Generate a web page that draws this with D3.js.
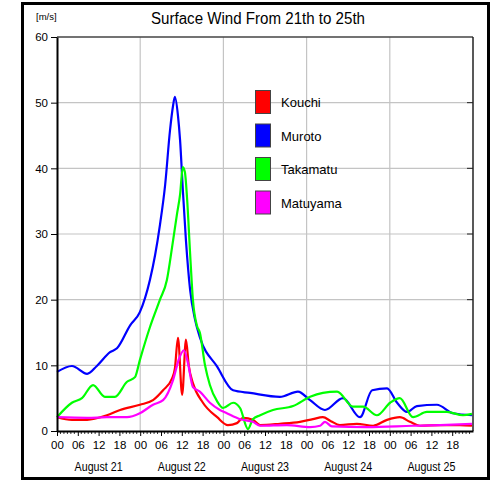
<!DOCTYPE html>
<html><head><meta charset="utf-8">
<script src="https://cdn.jsdelivr.net/npm/d3@7"></script>
<style>
body{margin:0;background:#fff;}
text{font-family:"Liberation Sans",Arial,sans-serif;}
</style></head>
<body><svg id="c" width="495" height="480"></svg>
<script>
// Data: hours since Aug 21 00:00, wind speed m/s
const seriesNames = ["Kouchi","Muroto","Takamatu","Matuyama"];
const seriesColors = ["#ff0000","#0000ff","#00ff00","#ff00ff"];
const kouchi = [[0,2.1],[4.3,1.7],[8.7,1.7],[14.4,2.4],[18.2,3.2],[23.9,4],[27.7,4.7],[30.6,6.2],[33.2,8],[34.0,9.5],[34.9,14.2],[36.1,5.5],[37.2,13.9],[38.0,10],[39.2,7.3],[42.1,4.3],[46.2,2.1],[49.3,0.9],[51.9,1.2],[53.7,2],[56.5,1.7],[58.6,0.9],[64.3,1.1],[70.1,1.4],[73.8,1.8],[76.7,2.1],[79,1.5],[81.6,0.9],[86.5,1.1],[91.2,0.8],[95.2,1.7],[98.9,2.1],[101.8,1.4],[104.7,0.8],[110.5,0.9],[116.2,0.9],[119.7,0.8]];
const muroto = [[0,9],[4.3,9.9],[8.7,8.7],[11.5,9.9],[15.3,12],[17.3,12.6],[21.1,16.1],[23.9,18.1],[26.8,23],[28.3,26.8],[29.7,31.4],[31.2,37.5],[32.6,45.8],[33.5,49.6],[34.0,50.9],[34.9,48],[35.5,44.3],[36.3,36.7],[37.2,29],[38.4,21.5],[39.8,17],[41.2,14.3],[46.2,9.8],[50.8,6.2],[55.7,5.8],[64.3,5.2],[69.5,6],[73,4.7],[77.3,3.2],[82.5,5],[87.4,2.1],[90.9,6.2],[95.2,6.5],[98.1,4.3],[101,2.9],[103.8,3.8],[109.6,4],[114.2,2.7],[119.7,2.4]];
const takamatu = [[0,2.1],[4.3,4.3],[7.2,5],[10.4,7],[13.8,5.2],[16.7,5.2],[20.2,7.5],[22.5,8.2],[23.9,10.8],[26.8,15.8],[29.7,20],[31.7,23],[33.2,28],[34.6,33],[35.5,36],[36.3,40.2],[36.9,39.4],[37.5,35.6],[38.4,27],[39.2,20],[40.4,16],[41.2,15],[42.7,10],[44.1,7],[46.2,4.5],[47.9,3.5],[50.8,4.3],[52.8,3.5],[55.1,0.3],[56.5,1.8],[58.6,2.4],[62.3,3.2],[68.1,3.8],[73,5.2],[76.7,5.8],[80.8,6],[85.4,3.7],[88.3,3.7],[92.3,2.4],[96.1,4.3],[98.9,5],[102.7,2.1],[106.7,2.9],[112.5,2.9],[117.1,2.4],[119.7,2.6]];
const matuyama = [[0,2.1],[8.7,2],[14.4,2.1],[20.2,2.1],[23.9,2.7],[27.7,4],[30.6,4.7],[33.5,7.8],[35.2,11],[36.6,12.3],[37.8,10.3],[39.2,6.7],[41.2,6],[44.1,4.3],[47,3.2],[49,2.7],[52.8,1.8],[56.5,1.4],[58.6,0.8],[66.3,0.9],[73,0.6],[75.9,0.8],[77.3,1.4],[79.3,0.7],[89.4,0.6],[102.7,0.8],[110.5,0.9],[119.7,1.1]];
const seriesData = [kouchi, muroto, takamatu, matuyama];
const yTicks = [0,10,20,30,40,50,60];
const hourLabels = ["00","06","12","18"];
const dayLabels = ["August 21","August 22","August 23","August 24","August 25"];
const titleText = "Surface Wind From 21th to 25th";
const unitText = "[m/s]";

const svg = d3.select("#c");
const L=57, R=473, T=37, B=431;
const x = d3.scaleLinear().domain([0,120]).range([L,R]);
const y = d3.scaleLinear().domain([0,60]).range([B,T]);

// outer frame
svg.append("rect").attr("x",22.5).attr("y",3.5).attr("width",466).attr("height",475)
  .attr("fill","none").attr("stroke","#000").attr("stroke-width",3);

// grid
svg.append("g").selectAll("line").data(yTicks.slice(1,-1)).join("line")
  .attr("x1",L).attr("x2",R).attr("y1",d=>y(d)).attr("y2",d=>y(d))
  .attr("stroke","#c4c4c4").attr("stroke-width",1.2);
svg.append("g").selectAll("line").data([24,48,72,96]).join("line")
  .attr("y1",T).attr("y2",B).attr("x1",d=>x(d)).attr("x2",d=>x(d))
  .attr("stroke","#c4c4c4").attr("stroke-width",1.2);

// lines
const line = d3.line().x(d=>x(d[0])).y(d=>y(d[1])).curve(d3.curveMonotoneX);
seriesData.forEach((s,i)=>{
  svg.append("path").datum(s).attr("d",line).attr("fill","none")
    .attr("stroke",seriesColors[i]).attr("stroke-width",2.2).attr("stroke-linejoin","round");
});

// plot frame
svg.append("line").attr("x1",L).attr("x2",R).attr("y1",T).attr("y2",T).attr("stroke","#444").attr("stroke-width",1.5);
svg.append("line").attr("x1",R).attr("x2",R).attr("y1",T).attr("y2",B).attr("stroke","#222").attr("stroke-width",1.5);

// y axis
const yAxis = svg.append("g").attr("transform",`translate(${L},0)`)
  .call(d3.axisLeft(y).tickValues(yTicks).tickSize(6).tickSizeOuter(0).tickPadding(3));
yAxis.select(".domain").attr("stroke","#000").attr("stroke-width",2);
yAxis.selectAll(".tick line").attr("stroke","#000");
yAxis.selectAll("text").attr("font-size",11.5).attr("fill","#000");
// right ticks
svg.append("g").selectAll("line").data(yTicks.slice(1,-1)).join("line")
  .attr("x1",R-6).attr("x2",R).attr("y1",d=>y(d)).attr("y2",d=>y(d)).attr("stroke","#222");

// x axis
const minorH = d3.range(0,121,1);
svg.append("g").selectAll("line").data(minorH.filter(h=>h%6!==0)).join("line")
  .attr("x1",d=>x(d)).attr("x2",d=>x(d)).attr("y1",B).attr("y2",B+3).attr("stroke","#000").attr("stroke-width",0.8);
const majorH = d3.range(0,120,6);
const xAxis = svg.append("g").attr("transform",`translate(0,${B})`)
  .call(d3.axisBottom(x).tickValues(majorH).tickSize(5).tickSizeOuter(0).tickPadding(5)
    .tickFormat(d=>hourLabels[(d/6)%4]));
xAxis.select(".domain").attr("stroke","#000").attr("stroke-width",2);
xAxis.selectAll(".tick line").attr("stroke","#000");
xAxis.selectAll("text").attr("font-size",11.5).attr("fill","#000");

svg.append("g").selectAll("text").data(dayLabels).join("text")
  .attr("x",(d,i)=>x(i*24+12)).attr("y",471).attr("text-anchor","middle")
  .attr("font-size",12).attr("textLength",48).attr("lengthAdjust","spacingAndGlyphs").text(d=>d);

// title
svg.append("text").attr("x",258).attr("y",24).attr("text-anchor","middle")
  .attr("font-size",16).attr("textLength",214).attr("lengthAdjust","spacingAndGlyphs").text(titleText);
svg.append("text").attr("x",36).attr("y",20).attr("font-size",9.5).text(unitText);

// legend
const lg = svg.append("g");
seriesNames.forEach((n,i)=>{
  const yy = 90 + i*33.5;
  lg.append("rect").attr("x",255.5).attr("y",yy+0.5).attr("width",15).attr("height",23)
    .attr("fill",seriesColors[i]).attr("stroke","#444").attr("stroke-width",1);
  lg.append("text").attr("x",281).attr("y",yy+17).attr("font-size",13).text(n);
});
</script></body></html>
